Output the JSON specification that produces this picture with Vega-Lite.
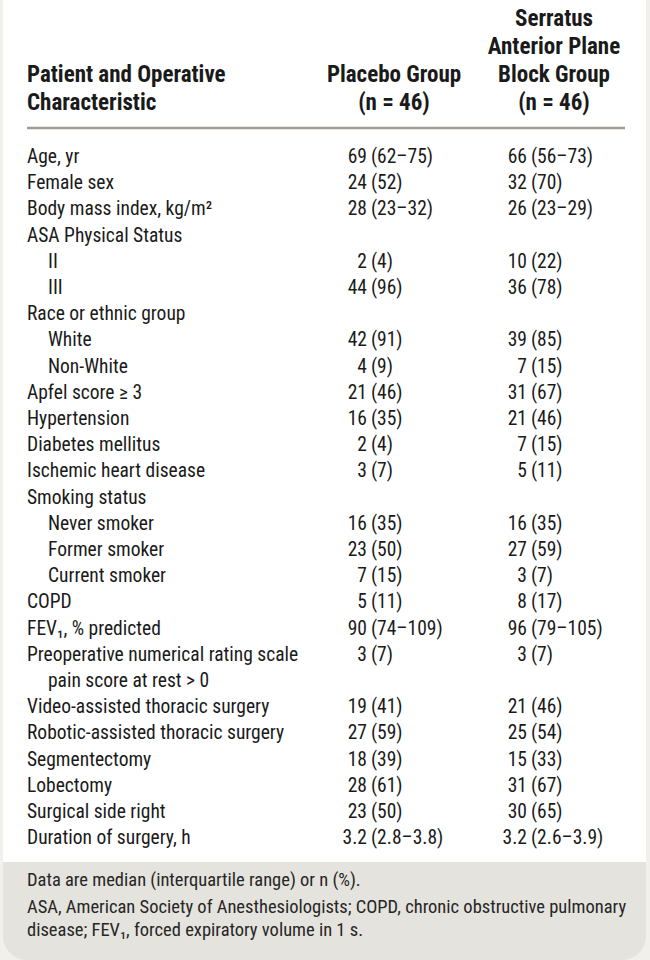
{
  "$schema": "https://vega.github.io/schema/vega-lite/v6.json",
  "width": 650,
  "height": 960,
  "autosize": {"type": "fit", "contains": "padding"},
  "padding": 0,
  "background": "#f1f0eb",
  "config": {
    "view": {"stroke": null},
    "text": {"font": "Roboto Condensed, Liberation Sans Narrow, DejaVu Sans Condensed, sans-serif", "color": "#1a1a1a", "baseline": "middle"}
  },
  "datasets": {
    "rows": [
      {"row": 0, "level": 0, "label": "Age, yr", "p_n": "69", "p_r": "(62–75)", "s_n": "66", "s_r": "(56–73)"},
      {"row": 1, "level": 0, "label": "Female sex", "p_n": "24", "p_r": "(52)", "s_n": "32", "s_r": "(70)"},
      {"row": 2, "level": 0, "label": "Body mass index, kg/m²", "p_n": "28", "p_r": "(23–32)", "s_n": "26", "s_r": "(23–29)"},
      {"row": 3, "level": 0, "label": "ASA Physical Status", "p_n": "", "p_r": "", "s_n": "", "s_r": ""},
      {"row": 4, "level": 1, "label": "II", "p_n": "2", "p_r": "(4)", "s_n": "10", "s_r": "(22)"},
      {"row": 5, "level": 1, "label": "III", "p_n": "44", "p_r": "(96)", "s_n": "36", "s_r": "(78)"},
      {"row": 6, "level": 0, "label": "Race or ethnic group", "p_n": "", "p_r": "", "s_n": "", "s_r": ""},
      {"row": 7, "level": 1, "label": "White", "p_n": "42", "p_r": "(91)", "s_n": "39", "s_r": "(85)"},
      {"row": 8, "level": 1, "label": "Non-White", "p_n": "4", "p_r": "(9)", "s_n": "7", "s_r": "(15)"},
      {"row": 9, "level": 0, "label": "Apfel score ≥ 3", "p_n": "21", "p_r": "(46)", "s_n": "31", "s_r": "(67)"},
      {"row": 10, "level": 0, "label": "Hypertension", "p_n": "16", "p_r": "(35)", "s_n": "21", "s_r": "(46)"},
      {"row": 11, "level": 0, "label": "Diabetes mellitus", "p_n": "2", "p_r": "(4)", "s_n": "7", "s_r": "(15)"},
      {"row": 12, "level": 0, "label": "Ischemic heart disease", "p_n": "3", "p_r": "(7)", "s_n": "5", "s_r": "(11)"},
      {"row": 13, "level": 0, "label": "Smoking status", "p_n": "", "p_r": "", "s_n": "", "s_r": ""},
      {"row": 14, "level": 1, "label": "Never smoker", "p_n": "16", "p_r": "(35)", "s_n": "16", "s_r": "(35)"},
      {"row": 15, "level": 1, "label": "Former smoker", "p_n": "23", "p_r": "(50)", "s_n": "27", "s_r": "(59)"},
      {"row": 16, "level": 1, "label": "Current smoker", "p_n": "7", "p_r": "(15)", "s_n": "3", "s_r": "(7)"},
      {"row": 17, "level": 0, "label": "COPD", "p_n": "5", "p_r": "(11)", "s_n": "8", "s_r": "(17)"},
      {"row": 18, "level": 0, "label": "FEV₁, % predicted", "p_n": "90", "p_r": "(74–109)", "s_n": "96", "s_r": "(79–105)"},
      {"row": 19, "level": 0, "label": "Preoperative numerical rating scale", "p_n": "3", "p_r": "(7)", "s_n": "3", "s_r": "(7)"},
      {"row": 20, "level": 1, "label": "pain score at rest > 0", "p_n": "", "p_r": "", "s_n": "", "s_r": ""},
      {"row": 21, "level": 0, "label": "Video-assisted thoracic surgery", "p_n": "19", "p_r": "(41)", "s_n": "21", "s_r": "(46)"},
      {"row": 22, "level": 0, "label": "Robotic-assisted thoracic surgery", "p_n": "27", "p_r": "(59)", "s_n": "25", "s_r": "(54)"},
      {"row": 23, "level": 0, "label": "Segmentectomy", "p_n": "18", "p_r": "(39)", "s_n": "15", "s_r": "(33)"},
      {"row": 24, "level": 0, "label": "Lobectomy", "p_n": "28", "p_r": "(61)", "s_n": "31", "s_r": "(67)"},
      {"row": 25, "level": 0, "label": "Surgical side right", "p_n": "23", "p_r": "(50)", "s_n": "30", "s_r": "(65)"},
      {"row": 26, "level": 0, "label": "Duration of surgery, h", "p_n": "3.2", "p_r": "(2.8–3.8)", "s_n": "3.2", "s_r": "(2.6–3.9)"}
    ],
    "header": [
      {"row": -5.267, "left": "", "placebo": "", "block": "Serratus"},
      {"row": -4.198, "left": "", "placebo": "", "block": "Anterior Plane"},
      {"row": -3.13, "left": "Patient and Operative", "placebo": "Placebo Group", "block": "Block Group"},
      {"row": -2.061, "left": "Characteristic", "placebo": "(n = 46)", "block": "(n = 46)"}
    ],
    "notes": [
      {"row": 27.6, "note": "Data are median (interquartile range) or n (%)."},
      {"row": 28.63, "note": "ASA, American Society of Anesthesiologists; COPD, chronic obstructive pulmonary"},
      {"row": 29.5, "note": "disease; FEV₁, forced expiratory volume in 1 s."}
    ]
  },
  "layer": [
    {
      "data": {"values": [{"part": "panel"}]},
      "mark": {"type": "rect", "fill": "#ffffff"},
      "encoding": {
        "x": {"datum": 3, "type": "quantitative", "scale": {"domain": [0, 650], "nice": false, "zero": false}, "axis": null},
        "x2": {"datum": 646},
        "y": {"datum": -5.992, "type": "quantitative", "scale": {"domain": [-5.992, 30.649], "reverse": true, "nice": false, "zero": false}, "axis": null},
        "y2": {"datum": 26.908}
      }
    },
    {
      "data": {"values": [{"part": "footer"}]},
      "mark": {"type": "rect", "fill": "#e5e3dd", "cornerRadiusBottomLeft": 24, "cornerRadiusBottomRight": 24},
      "encoding": {
        "x": {"datum": 3, "type": "quantitative"},
        "x2": {"datum": 646},
        "y": {"datum": 26.908, "type": "quantitative"},
        "y2": {"datum": 30.649}
      }
    },
    {
      "data": {"values": [{"part": "rule"}]},
      "mark": {"type": "rule", "stroke": "#a29d93", "strokeWidth": 2.5},
      "encoding": {
        "x": {"datum": 27, "type": "quantitative"},
        "x2": {"datum": 625},
        "y": {"datum": -1.107, "type": "quantitative"}
      }
    },
    {
      "data": {"name": "header"},
      "mark": {"type": "text", "align": "left", "fontWeight": "bold", "fontSize": 23},
      "encoding": {"x": {"datum": 27, "type": "quantitative"}, "y": {"field": "row", "type": "quantitative"}, "text": {"field": "left"}}
    },
    {
      "data": {"name": "header"},
      "mark": {"type": "text", "align": "center", "fontWeight": "bold", "fontSize": 23},
      "encoding": {"x": {"datum": 394, "type": "quantitative"}, "y": {"field": "row", "type": "quantitative"}, "text": {"field": "placebo"}}
    },
    {
      "data": {"name": "header"},
      "mark": {"type": "text", "align": "center", "fontWeight": "bold", "fontSize": 23},
      "encoding": {"x": {"datum": 554, "type": "quantitative"}, "y": {"field": "row", "type": "quantitative"}, "text": {"field": "block"}}
    },
    {
      "data": {"name": "rows"},
      "transform": [{"filter": "datum.level == 0"}],
      "mark": {"type": "text", "align": "left", "fontSize": 19.5},
      "encoding": {"x": {"datum": 27, "type": "quantitative"}, "y": {"field": "row", "type": "quantitative"}, "text": {"field": "label"}}
    },
    {
      "data": {"name": "rows"},
      "transform": [{"filter": "datum.level == 1"}],
      "mark": {"type": "text", "align": "left", "fontSize": 19.5},
      "encoding": {"x": {"datum": 48, "type": "quantitative"}, "y": {"field": "row", "type": "quantitative"}, "text": {"field": "label"}}
    },
    {
      "data": {"name": "rows"},
      "mark": {"type": "text", "align": "right", "fontSize": 19.5},
      "encoding": {"x": {"datum": 367, "type": "quantitative"}, "y": {"field": "row", "type": "quantitative"}, "text": {"field": "p_n"}}
    },
    {
      "data": {"name": "rows"},
      "mark": {"type": "text", "align": "left", "fontSize": 19.5},
      "encoding": {"x": {"datum": 371, "type": "quantitative"}, "y": {"field": "row", "type": "quantitative"}, "text": {"field": "p_r"}}
    },
    {
      "data": {"name": "rows"},
      "mark": {"type": "text", "align": "right", "fontSize": 19.5},
      "encoding": {"x": {"datum": 527, "type": "quantitative"}, "y": {"field": "row", "type": "quantitative"}, "text": {"field": "s_n"}}
    },
    {
      "data": {"name": "rows"},
      "mark": {"type": "text", "align": "left", "fontSize": 19.5},
      "encoding": {"x": {"datum": 531, "type": "quantitative"}, "y": {"field": "row", "type": "quantitative"}, "text": {"field": "s_r"}}
    },
    {
      "data": {"name": "notes"},
      "mark": {"type": "text", "align": "left", "fontSize": 18.5, "color": "#262626"},
      "encoding": {"x": {"datum": 27, "type": "quantitative"}, "y": {"field": "row", "type": "quantitative"}, "text": {"field": "note"}}
    }
  ]
}
